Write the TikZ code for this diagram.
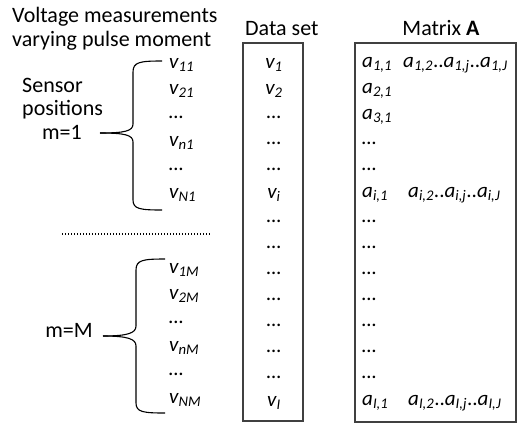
\documentclass[tikz,border=0pt]{standalone}
\usepackage{fontspec}
\setmainfont{Carlito}
\newcommand\myv[1]{\textit{v\textsubscript{#1}}}
\newcommand\mya[1]{\textit{a\textsubscript{#1}}}
\begin{document}
\begin{tikzpicture}[x=1pt,y=-1pt,
  txt/.style={inner sep=0pt,font=\fontsize{21}{25}\selectfont},
  lbl/.style={inner sep=0pt,font=\fontsize{22}{26}\selectfont},
  boxframe/.style={draw=black!75,line width=1.2pt},
  bracepath/.style={draw=black,line width=1.1pt}]
\useasboundingbox (0,0) rectangle (521,424);
% titles
\node[lbl,anchor=base west] (t1) at (12,22) {Voltage measurements};
\node[lbl,anchor=base west] (t2) at (12,46) {varying pulse moment};
\node[lbl,anchor=base west] (ds) at (245,35) {Data set};
\node[lbl,anchor=base] (ma) at (441,35) {Matrix \textbf{A}};
% boxes
\draw[boxframe] (243,43) rectangle (303,421);
\draw[boxframe] (355,43) rectangle (516,422);
% left labels
\node[lbl,anchor=base west] (s1) at (22,92) {Sensor};
\node[lbl,anchor=base west] (s2) at (22,115) {positions};
\node[lbl,anchor=base] (m1) at (62,139) {m=1};
\node[lbl,anchor=base] (mM) at (69,337) {m=M};
% braces
\draw[bracepath] (162,61) .. controls (140,61) and (133,62) .. (133,72)
  -- (133,124) .. controls (133,131) and (125,133) .. (100,133);
\draw[bracepath] (100,133) .. controls (125,133) and (133,135) .. (133,142)
  -- (133,200) .. controls (133,209) and (140,210) .. (162,210);
\draw[bracepath] (165,259) .. controls (143,259) and (136,260) .. (136,270)
  -- (136,326) .. controls (136,333) and (128,336) .. (103,336);
\draw[bracepath] (103,336) .. controls (128,336) and (136,339) .. (136,346)
  -- (136,403) .. controls (136,412) and (143,413) .. (165,413);
% dotted line
\draw[line width=1.1pt,dash pattern=on 1.1pt off 1.9pt] (62,234) -- (210,234);
% left column
\foreach \t [count=\k from 0] in {\myv{11},\myv{21},\textit{…},\myv{n1},\textit{…},\myv{N1}}
  \node[txt,anchor=west] (l\k) at (169,65+26*\k) {\t};
\foreach \t [count=\k from 0] in {\myv{1M},\myv{2M},\textit{…},\myv{nM},\textit{…},\myv{NM}}
  \node[txt,anchor=west] (L\k) at (169,270+26*\k) {\t};
% data set column
\foreach \t [count=\k from 0] in {\myv{1},\myv{2},\textit{…},\textit{…},\textit{…},\myv{i},\textit{…},\textit{…},\textit{…},\textit{…},\textit{…},\textit{…},\textit{…},\myv{I}}
  \node[txt] (d\k) at (274,65+26*\k) {\t};
% matrix column
\foreach \t [count=\k from 0] in {\mya{1,1},\mya{2,1},\mya{3,1},\textit{…},\textit{…},\mya{i,1},\textit{…},\textit{…},\textit{…},\textit{…},\textit{…},\textit{…},\textit{…},\mya{I,1}}
  \node[txt,anchor=west] (a\k) at (362,65+26*\k) {\t};
\node[txt,anchor=west] (r1) at (403,65) {\mya{1,2}..\mya{1,j}..\mya{1,J}};
\node[txt,anchor=west] (ri) at (408,195) {\mya{i,2}..\mya{i,j}..\mya{i,J}};
\node[txt,anchor=west] (rI) at (408,403) {\mya{I,2}..\mya{I,j}..\mya{I,J}};
\end{tikzpicture}
\end{document}
